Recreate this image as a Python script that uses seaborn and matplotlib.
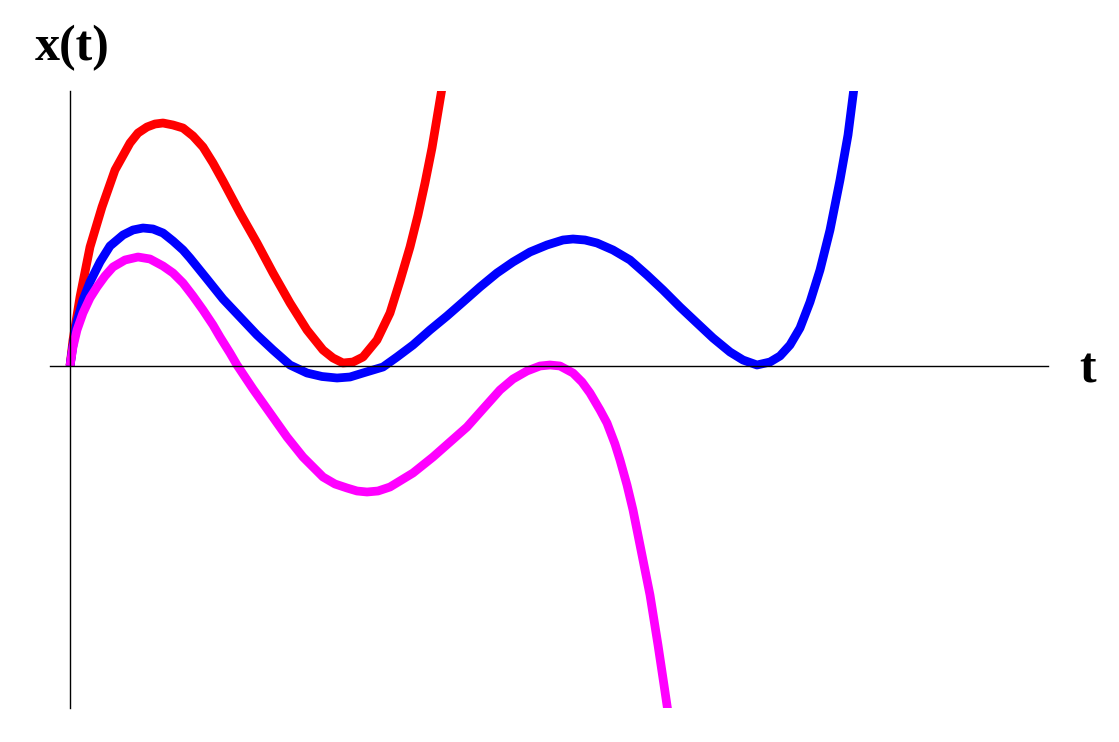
import seaborn as sns
import pandas as pd
import matplotlib
matplotlib.use('Agg')
import matplotlib.pyplot as plt

# values (arbitrary units, no ticks on the chart)
red_t = [0.00, 0.03, 0.10, 0.20, 0.32, 0.45, 0.60, 0.68, 0.77, 0.85, 0.93, 1.03, 1.13, 1.23,
         1.33, 1.43, 1.53, 1.70, 1.87, 2.03, 2.20, 2.37, 2.53, 2.63, 2.73, 2.83, 2.93, 3.07,
         3.20, 3.30, 3.40, 3.48, 3.55, 3.62, 3.67, 3.72, 3.75]
red_x = [0.00, 0.26, 0.69, 1.19, 1.59, 1.96, 2.23, 2.33, 2.39, 2.42, 2.43, 2.41, 2.38, 2.30,
         2.19, 2.03, 1.85, 1.53, 1.23, 0.93, 0.63, 0.36, 0.16, 0.08, 0.03, 0.04, 0.09, 0.26,
         0.53, 0.85, 1.19, 1.51, 1.83, 2.18, 2.48, 2.78, 2.96]

blue_t = [0.00, 0.03, 0.07, 0.13, 0.20, 0.30, 0.40, 0.53, 0.63, 0.73, 0.83, 0.93, 1.03, 1.13,
          1.20, 1.37, 1.53, 1.70, 1.87, 2.03, 2.20, 2.37, 2.52, 2.67, 2.80, 2.93, 3.13, 3.27,
          3.43, 3.60, 3.77, 3.93, 4.10, 4.27, 4.43, 4.60, 4.77, 4.93, 5.03, 5.15, 5.27, 5.43,
          5.60, 5.77, 5.93, 6.10, 6.27, 6.43, 6.60, 6.73, 6.87, 7.00, 7.10, 7.20, 7.30, 7.40,
          7.50, 7.60, 7.70, 7.78, 7.84, 7.86]
blue_x = [0.00, 0.21, 0.44, 0.66, 0.84, 1.04, 1.20, 1.31, 1.36, 1.38, 1.37, 1.33, 1.25, 1.16,
          1.08, 0.87, 0.67, 0.49, 0.31, 0.16, 0.01, -0.07, -0.105, -0.12, -0.11, -0.07, -0.01, 0.09,
          0.21, 0.36, 0.50, 0.64, 0.79, 0.93, 1.04, 1.14, 1.21, 1.26, 1.27, 1.26, 1.23, 1.16,
          1.06, 0.91, 0.76, 0.59, 0.43, 0.28, 0.14, 0.06, 0.01, 0.04, 0.10, 0.21, 0.38, 0.64,
          0.96, 1.36, 1.86, 2.31, 2.78, 2.96]

magenta_t = [0.00, 0.03, 0.07, 0.13, 0.20, 0.27, 0.35, 0.43, 0.55, 0.68, 0.80, 0.93, 1.03, 1.13,
             1.23, 1.33, 1.43, 1.50, 1.60, 1.67, 1.83, 2.00, 2.17, 2.33, 2.53, 2.65, 2.77, 2.87,
             2.97, 3.08, 3.20, 3.43, 3.63, 3.80, 3.97, 4.13, 4.30, 4.43, 4.57, 4.70, 4.80, 4.90,
             5.03, 5.12, 5.20, 5.30, 5.37, 5.45, 5.50, 5.57, 5.63, 5.70, 5.80, 5.88, 5.94, 5.98,
             6.00]
magenta_x = [0.00, 0.19, 0.36, 0.53, 0.68, 0.79, 0.90, 0.99, 1.06, 1.09, 1.07, 1.00, 0.93, 0.83,
             0.70, 0.56, 0.41, 0.29, 0.13, 0.01, -0.23, -0.47, -0.71, -0.91, -1.11, -1.18, -1.22, -1.25,
             -1.26, -1.25, -1.21, -1.07, -0.91, -0.76, -0.61, -0.43, -0.24, -0.13, -0.05, 0.00, 0.01, 0.00,
             -0.07, -0.16, -0.27, -0.44, -0.57, -0.78, -0.94, -1.19, -1.44, -1.79, -2.29, -2.79, -3.19, -3.46,
             -3.59]

df = pd.concat([
    pd.DataFrame({'t': red_t, 'x': red_x, 'curve': 'red'}),
    pd.DataFrame({'t': blue_t, 'x': blue_x, 'curve': 'blue'}),
    pd.DataFrame({'t': magenta_t, 'x': magenta_x, 'curve': 'magenta'}),
], ignore_index=True)

sns.set_style('white')

W, H = 1119, 742
fig = plt.figure(figsize=(W / 100, H / 100), dpi=100)
ax = fig.add_axes([50 / W, (H - 708) / H, 998 / W, 617 / H])

sns.lineplot(data=df, x='t', y='x', hue='curve',
             palette={'red': '#ff0000', 'blue': '#0000ff', 'magenta': '#ff00ff'},
             sort=False, estimator=None, legend=False, linewidth=6.3, ax=ax,
             solid_capstyle='butt', solid_joinstyle='round')

ax.set_xlim(-0.20, 9.78)
ax.set_ylim(-3.42, 2.75)
ax.spines['left'].set_position(('data', 0))
ax.spines['bottom'].set_position(('data', 0))
ax.spines['top'].set_visible(False)
ax.spines['right'].set_visible(False)
for s in ['left', 'bottom']:
    ax.spines[s].set_linewidth(1.0)
    ax.spines[s].set_color('black')
ax.set_xticks([])
ax.set_yticks([])
ax.set_xlabel('')
ax.set_ylabel('')

lbl = dict(fontsize=36, fontweight='bold', color='black',
           family=['Liberation Serif', 'DejaVu Serif'])
fig.text(35 / W, 1 - 60 / H, 'x(t)', ha='left', va='baseline', **lbl)
fig.text(1079 / W, 1 - 383 / H, 't', ha='left', va='baseline', **lbl)

fig.savefig('out.png', dpi=100, facecolor='white')
